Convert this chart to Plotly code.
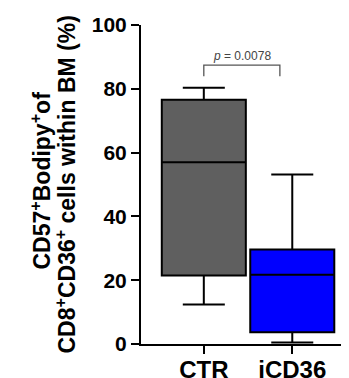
import plotly.graph_objects as go

categories = ["CTR", "iCD36"]
q1 = [21.5, 3.7]
median = [57.0, 21.7]
q3 = [76.6, 29.6]
lower = [12.4, 0.5]
upper = [80.3, 53.1]
colors = ["#5f5f5f", "#0000ff"]
y_ticks = [0, 20, 40, 60, 80, 100]
title_lines = ["<b>CD57<sup>+</sup>Bodipy<sup>+</sup>of</b>",
               "<b>CD8<sup>+</sup>CD36<sup>+</sup> cells within BM (%)</b>"]
p_text = "<i>p</i> = 0.0078"
bracket_y = 87.4
bracket_drop = 3.5
bracket_x = [0, 0.86]

FONT = "Arial, Liberation Sans, sans-serif"

fig = go.Figure()
for i, c in enumerate(categories):
    fig.add_trace(go.Box(
        x=[c], q1=[q1[i]], median=[median[i]], q3=[q3[i]],
        lowerfence=[lower[i]], upperfence=[upper[i]],
        fillcolor=colors[i], line=dict(color="black", width=2),
        width=0.95, whiskerwidth=0.5, boxpoints=False, showlegend=False,
        hoverinfo="skip",
    ))

fig.add_shape(type="path",
              path=f"M {bracket_x[0]},{bracket_y-bracket_drop} L {bracket_x[0]},{bracket_y} L {bracket_x[1]},{bracket_y} L {bracket_x[1]},{bracket_y-bracket_drop}",
              xref="x", yref="y", line=dict(color="#555555", width=1.3))
fig.add_annotation(x=(bracket_x[0]+bracket_x[1])/2, y=bracket_y, text=p_text,
                   showarrow=False, yanchor="bottom", yshift=0,
                   font=dict(family=FONT, size=12, color="#444444"))

# y-axis title as two rotated lines
for txt, xs, ys in zip(title_lines, [-101, -76], [4, 0]):
    fig.add_annotation(xref="paper", yref="paper", x=0, y=0.5, xshift=xs, yshift=ys,
                       text=txt, textangle=-90, showarrow=False,
                       xanchor="center", yanchor="middle",
                       font=dict(family=FONT, size=23, color="black"))

fig.update_layout(
    width=341, height=370,
    margin=dict(l=133, r=1, t=17, b=34, autoexpand=False),
    paper_bgcolor="white", plot_bgcolor="white",
    font=dict(family=FONT, color="black"),
    xaxis=dict(type="category", categoryorder="array", categoryarray=categories,
               range=[-0.71, 1.63], showline=True, linecolor="black", linewidth=2,
               ticks="outside", ticklen=8, tickwidth=2, tickcolor="black",
               ticklabelstandoff=-5,
               tickfont=dict(family=FONT, size=24, color="black", weight="bold"),
               showgrid=False, zeroline=False, automargin=False),
    yaxis=dict(range=[0, 100], tickvals=y_ticks, showline=True, linecolor="black",
               linewidth=2, ticks="outside", ticklen=8, tickwidth=2, tickcolor="black",
               tickfont=dict(family=FONT, size=21, color="black", weight="bold"),
               showgrid=False, zeroline=False, automargin=False),
)

fig.write_html("out.html")
